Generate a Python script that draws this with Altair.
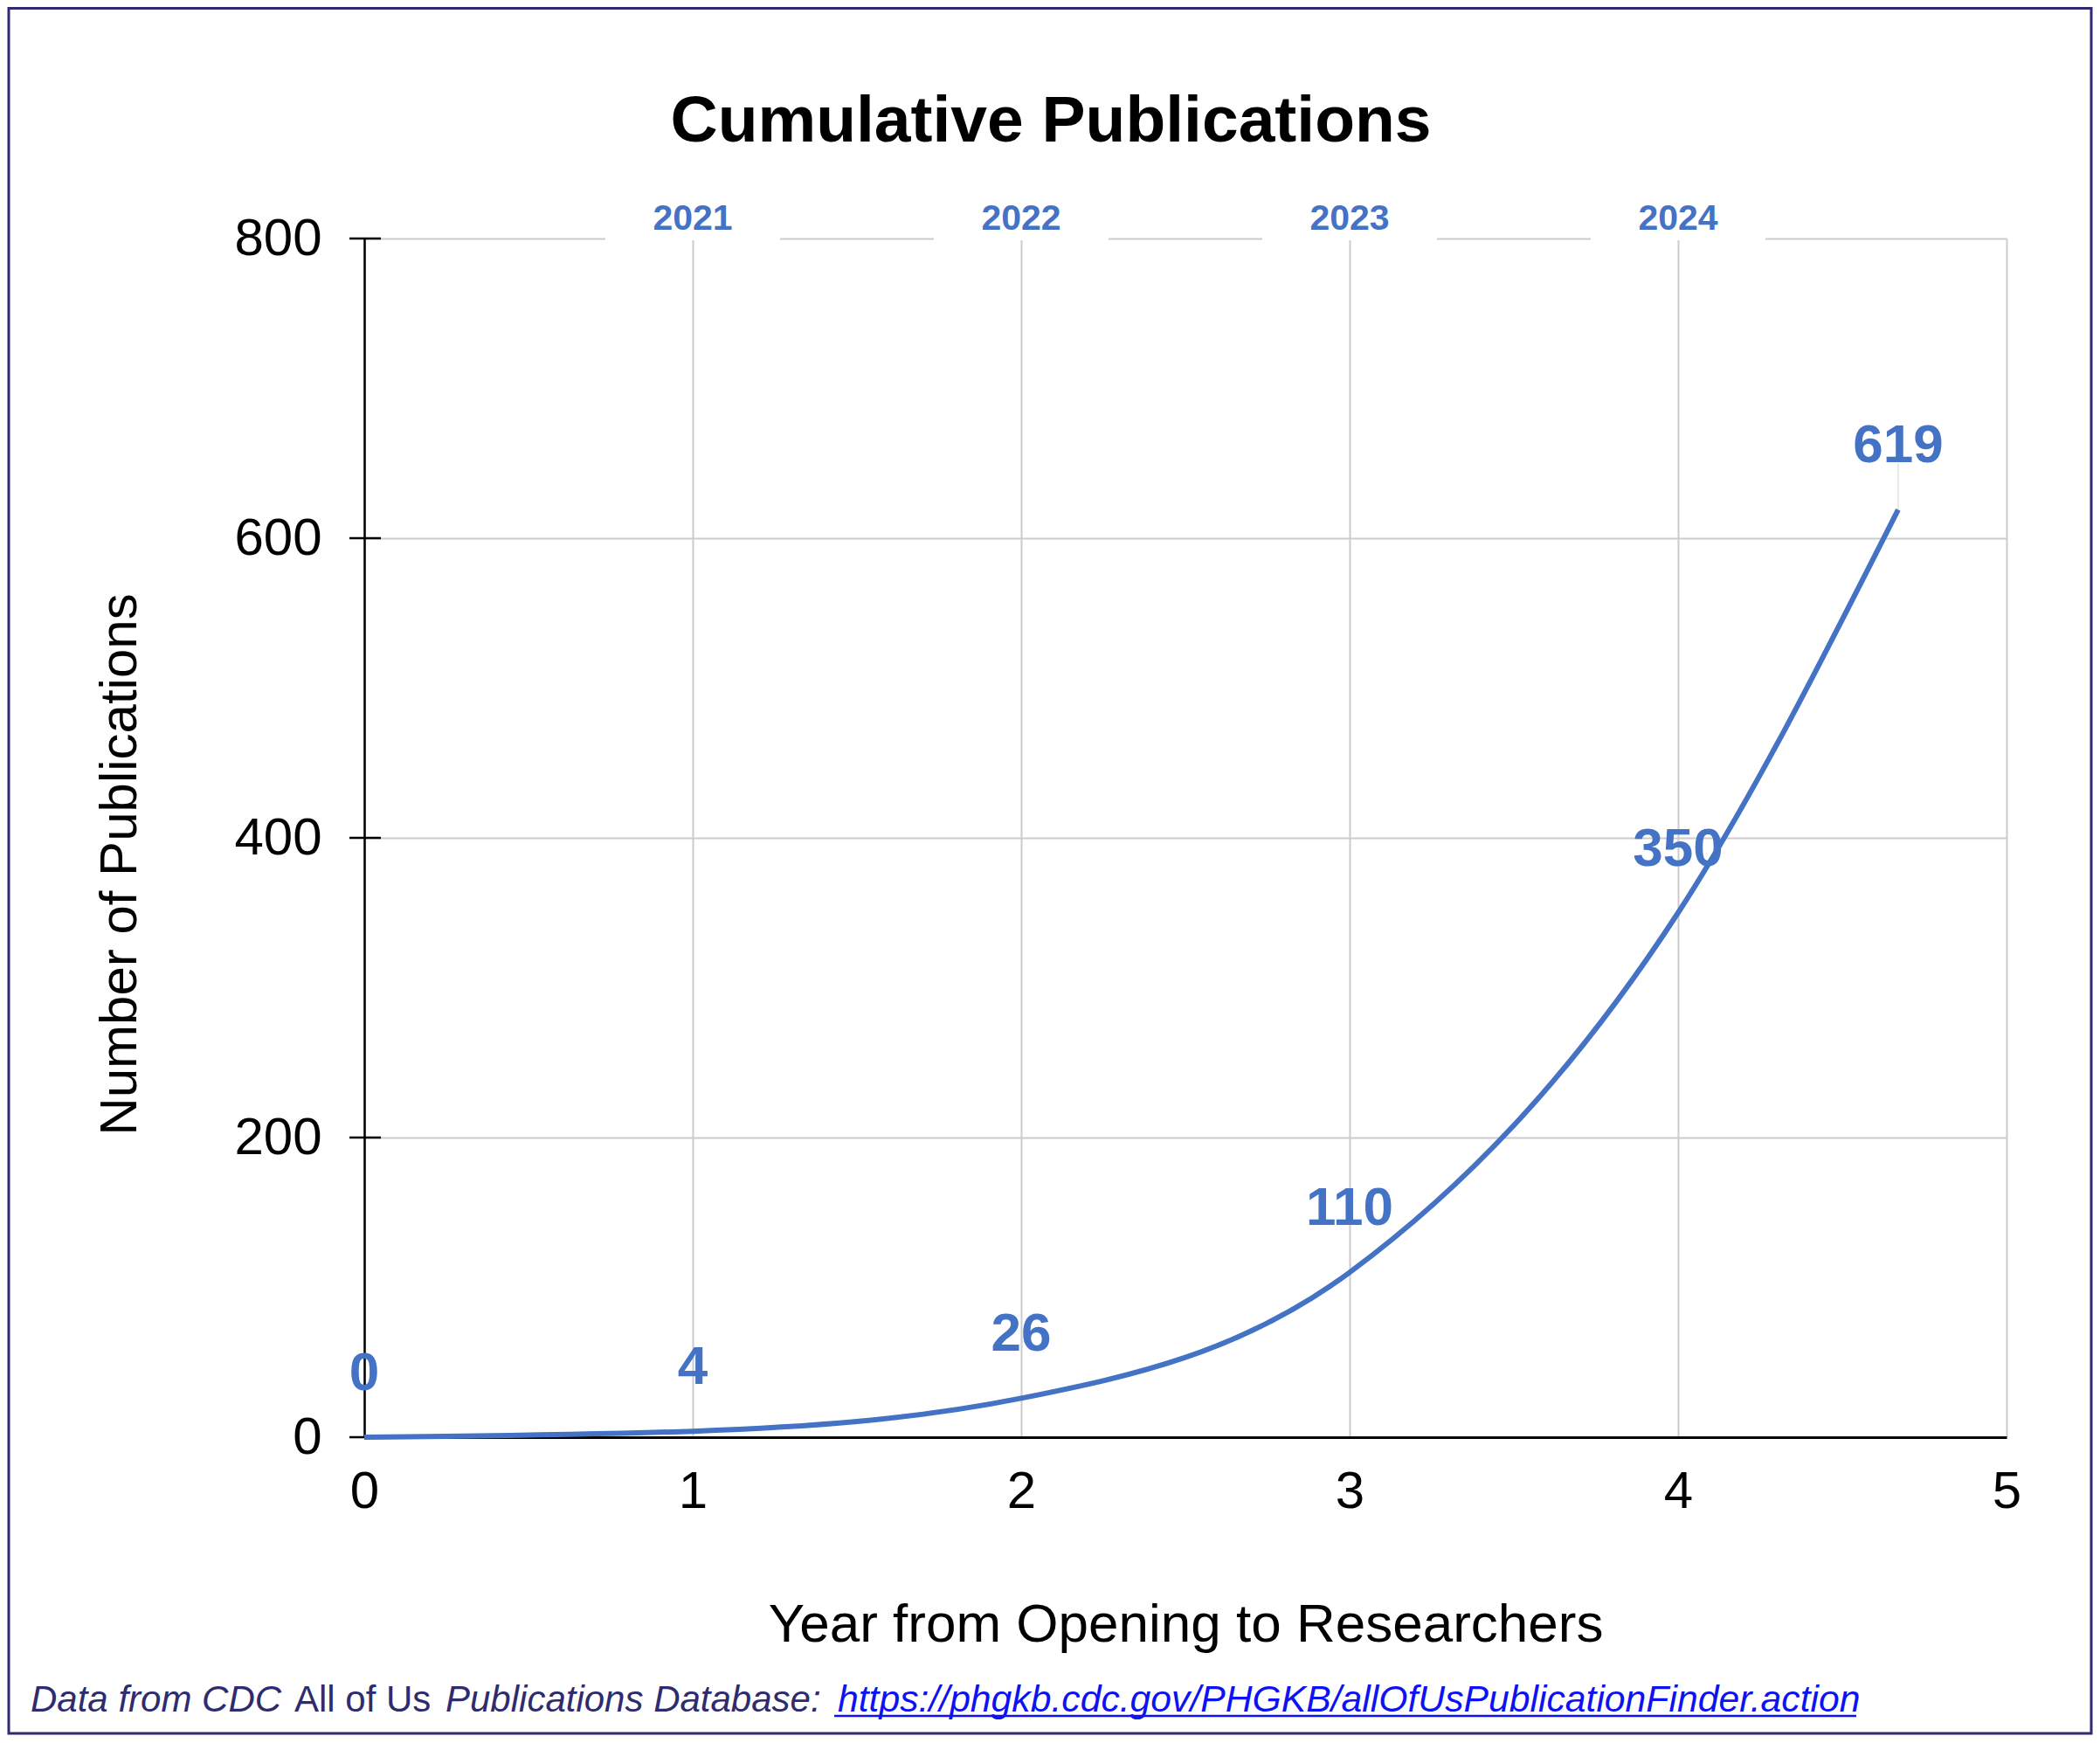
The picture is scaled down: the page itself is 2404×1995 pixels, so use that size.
import altair as alt
import pandas as pd

# ---- data ----
years_from_open = [0, 1, 2, 3, 4, 4.67]
publications = [0, 4, 26, 110, 350, 619]
calendar_pos = [1, 2, 3, 4]
calendar_years = ["2021", "2022", "2023", "2024"]
x_ticks = [0, 1, 2, 3, 4, 5]
y_ticks = [0, 200, 400, 600, 800]

title_text = "Cumulative Publications"
x_title = "Year from Opening to Researchers"
y_title = "Number of Publications"
cap_1 = "Data from CDC"
cap_2 = "All of Us"
cap_3 = "Publications Database:"
cap_link = "https://phgkb.cdc.gov/PHGKB/allOfUsPublicationFinder.action"

FONT = "Liberation Sans"
BLUE = "#4472C4"
NAVY = "#2e2b6e"
LINK = "#0d12f2"

df = pd.DataFrame({"x": years_from_open, "y": publications})
df_years = pd.DataFrame({"x": calendar_pos, "label": calendar_years})
df_ticks = pd.DataFrame({"y": y_ticks})
df_last = df.tail(1)
one = pd.DataFrame({"t": [title_text]})

xscale = alt.Scale(domain=[0, 5], nice=False, zero=False)
yscale = alt.Scale(domain=[0, 800], nice=False)

x_axis = alt.Axis(
    values=x_ticks, title=x_title, ticks=False, format="d", labelFlush=False,
    domainColor="black", domainWidth=3,
    gridColor="#cccccc", gridWidth=2,
    labelFont=FONT, labelFontSize=60, labelColor="black", labelPadding=33,
    titleFont=FONT, titleFontSize=62, titleFontWeight="normal", titleColor="black",
    titleX=940, titleY=233, titleBaseline="alphabetic",
)
y_axis = alt.Axis(
    values=y_ticks, title=y_title, ticks=False, format="d", labelFlush=False,
    domainColor="black", domainWidth=2.5,
    gridColor="#cccccc", gridWidth=2,
    labelFont=FONT, labelFontSize=60, labelColor="black", labelPadding=49,
    titleFont=FONT, titleFontSize=60, titleFontWeight="normal", titleColor="black",
    titleAngle=270, titleX=-262, titleY=716, titleBaseline="alphabetic",
)

line = alt.Chart(df).mark_line(color=BLUE, strokeWidth=6, interpolate="monotone").encode(
    x=alt.X("x:Q", scale=xscale, axis=x_axis),
    y=alt.Y("y:Q", scale=yscale, axis=y_axis),
)

leader = alt.Chart(df_last).mark_rule(color="#e2e2e2", strokeWidth=1.5, y2Offset=-53).encode(
    x=alt.X("x:Q", scale=xscale),
    y=alt.Y("y:Q", scale=yscale),
    y2=alt.Y2("y:Q"),
)

ticks = alt.Chart(df_ticks).mark_rule(color="black", strokeWidth=2.5).encode(
    y=alt.Y("y:Q", scale=yscale),
    x=alt.value(-17),
    x2=alt.value(19),
)

gaps = alt.Chart(df_years).mark_rule(color="white", strokeWidth=4, xOffset=-100, x2Offset=100).encode(
    x=alt.X("x:Q", scale=xscale),
    x2=alt.X2("x:Q"),
    y=alt.value(0),
)

labels = alt.Chart(df).mark_text(
    font=FONT, fontSize=62, fontWeight="bold", color=BLUE, baseline="alphabetic", align="center", dy=-54
).encode(
    x=alt.X("x:Q", scale=xscale),
    y=alt.Y("y:Q", scale=yscale),
    text=alt.Text("y:Q", format="d"),
)

years = alt.Chart(df_years).mark_text(
    font=FONT, fontSize=41, fontWeight="bold", color=BLUE, baseline="alphabetic", align="center"
).encode(
    x=alt.X("x:Q", scale=xscale),
    y=alt.value(-10),
    text="label:N",
)

title = alt.Chart(one).mark_text(
    font=FONT, fontSize=75, fontWeight="bold", color="black", baseline="alphabetic", align="center"
).encode(x=alt.value(786), y=alt.value(-111), text="t:N")


def caption(text, xpos, style, color, size=42):
    return alt.Chart(pd.DataFrame({"t": [text]})).mark_text(
        font=FONT, fontSize=size, fontStyle=style, color=color, baseline="alphabetic", align="left"
    ).encode(x=alt.value(xpos), y=alt.value(1686), text="t:N")


c1 = caption(cap_1, -382, "italic", NAVY)
c2 = caption(cap_2, -80, "normal", NAVY)
c3 = caption(cap_3, 93, "italic", NAVY)
c4 = caption(cap_link, 542, "italic", LINK, 42.7)

underline = alt.Chart(one).mark_rule(color=LINK, strokeWidth=2.5).encode(
    x=alt.value(538), x2=alt.value(1708), y=alt.value(1691)
)

border = alt.Chart(one).mark_rect(fill="white", fillOpacity=0, stroke=NAVY, strokeWidth=3).encode(
    x=alt.value(-407), x2=alt.value(1977), y=alt.value(-263.5), y2=alt.value(1711)
)

chart = alt.layer(
    leader, ticks, gaps, line, labels, years, title, c1, c2, c3, c4, underline, border
).properties(
    width=1880,
    height=1372,
    autosize=alt.AutoSizeParams(type="none"),
    padding={"left": 409, "top": 265, "right": 99, "bottom": 341},
    background="white",
).configure_view(stroke=None)

chart.save("out.html", embed_options={"renderer": "svg", "actions": False})
